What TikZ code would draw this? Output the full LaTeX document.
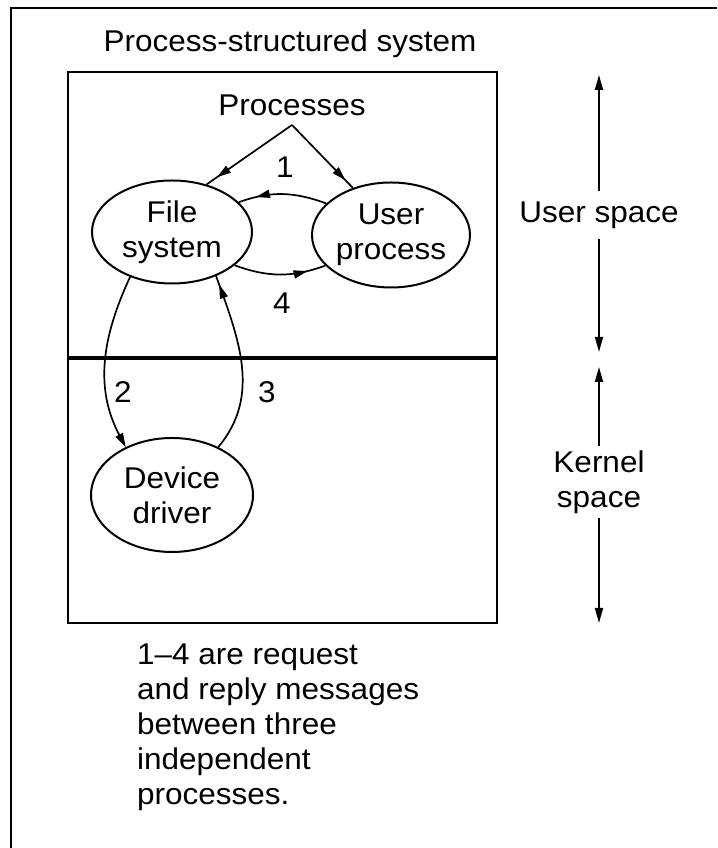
\documentclass[tikz,border=0pt]{standalone}
\usepackage{fontspec}
\setmainfont[FakeStretch=1.05]{Liberation Sans}
\usetikzlibrary{arrows.meta,shapes.geometric,decorations.markings}

\tikzset{
  proc/.style={ellipse, draw, line width=2pt, inner sep=0pt, align=center,
    minimum width=160pt, minimum height=103pt, font=\fontsize{30}{35}\selectfont},
  lbl/.style={font=\fontsize{30}{35}\selectfont, align=center, inner sep=0pt},
  msg/.style={line width=1.7pt},
  headat/.style={postaction={decorate}, decoration={markings,
    mark=at position #1 with {\arrow{Triangle[length=14pt,width=8pt]}}}},
  spanarrow/.style={line width=1.7pt, -{Triangle[length=15pt,width=8pt]}}
}

\begin{document}
\begin{tikzpicture}[x=1pt,y=1pt]
\useasboundingbox (0,0) rectangle (717,848);
% Page frame
\draw[line width=2pt] (11,0) -- (11,840) -- (717,840);
% Title and system box
\node[lbl] (title) at (290,804) {Process-structured system};
\draw[line width=2.5pt] (68,225) rectangle (497,776);
% User / kernel boundary
\draw[line width=4pt] (68,490) -- (497,490);
% Processes
\node[lbl] (procs) at (292,743) {Processes};
\coordinate (apex) at (292,723);
\node[proc] (fs) at (172,616) {File\\system};
\node[proc, minimum width=158pt, minimum height=105pt] (up) at (391,613) {User\\process};
\node[proc, minimum width=162pt, minimum height=114pt] (dd) at (172,353) {Device\\driver};
% Pointers to the processes
\draw[msg, headat=0.88] (apex) -- (fs.54);
\draw[msg, headat=0.88] (apex) -- (up.129);
% Messages 1-4
\draw[msg, headat=0.8] (up.154) to[out=160, in=20] (fs.24);
\draw[msg, -{Triangle[length=14pt,width=8pt]}] (fs.227) to[out=245, in=118] (dd.134);
\draw[msg, headat=0.95] (dd.46) to[out=50, in=-70] (fs.-45);
\draw[msg, headat=0.8] (fs.-28) to[out=-20, in=200] (up.205);
\node[lbl] (n1) at (285,681) {1};
\node[lbl] (n2) at (123,456) {2};
\node[lbl] (n3) at (267,456) {3};
\node[lbl] (n4) at (282,545) {4};
% Spaces
\node[lbl, inner ysep=10pt] (us) at (599,633) {User space};
\coordinate (ustop) at (599,773);
\coordinate (usbot) at (599,496);
\node[lbl, inner ysep=4pt] (ks) at (599,366) {Kernel\\space};
\coordinate (kstop) at (599,481);
\coordinate (ksbot) at (599,225);
\draw[spanarrow] (us) -- (ustop);
\draw[spanarrow] (us) -- (usbot);
\draw[spanarrow] (ks) -- (kstop);
\draw[spanarrow] (ks) -- (ksbot);
% Note
\node[lbl, align=left, anchor=north west] (note) at (137,204)
  {1--4 are request\\and reply messages\\between three\\independent\\processes.};
\end{tikzpicture}
\end{document}
